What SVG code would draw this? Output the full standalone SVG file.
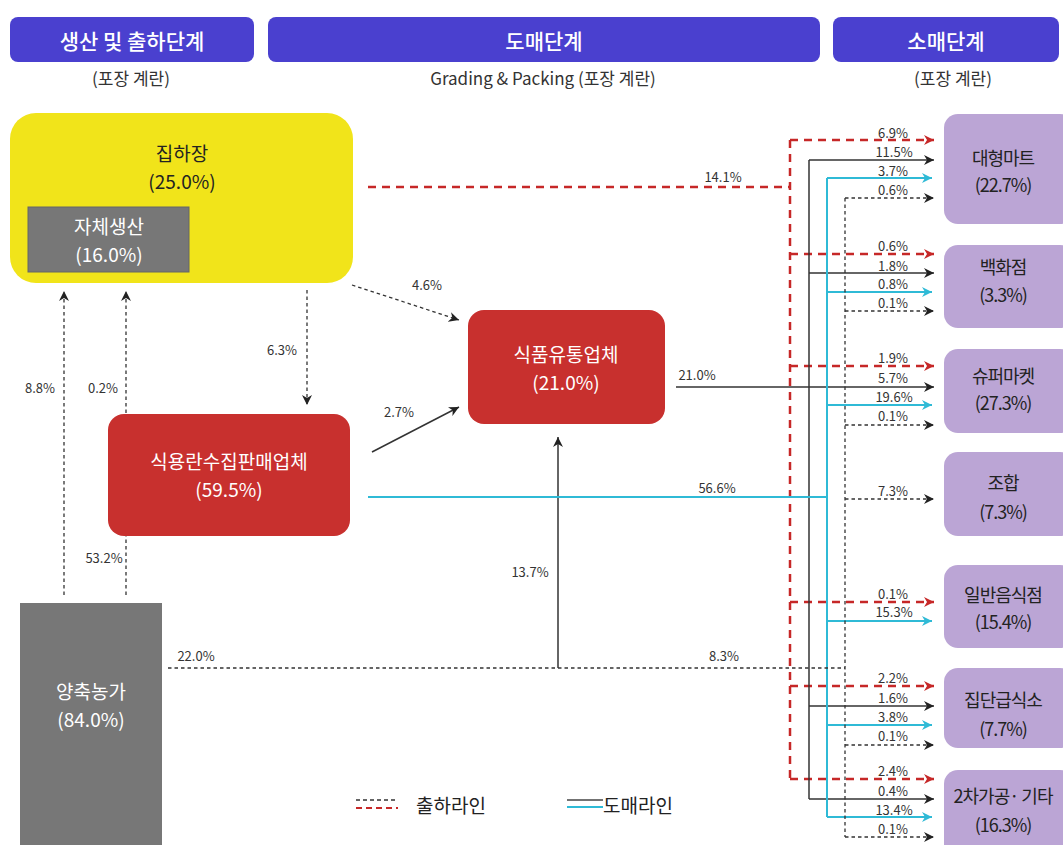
<svg xmlns="http://www.w3.org/2000/svg" width="1063" height="845" viewBox="0 0 1063 845">
<style>
text{font-family:"Noto Sans CJK KR","Noto Sans",sans-serif;}
.hdr{fill:#4A40CF;}
.hdrt{fill:#fff;font-size:21px;font-weight:500;text-anchor:middle;dominant-baseline:central;}
.sub{fill:#333;font-size:17px;text-anchor:middle;dominant-baseline:central;}
.nt{font-size:19px;text-anchor:middle;}
.wt{fill:#fff;}
.bt{fill:#222;}
.pt{fill:#222;font-size:18px;text-anchor:middle;letter-spacing:-1px;}
.lb{fill:#333;font-size:13px;text-anchor:middle;dominant-baseline:central;}
.purple{fill:#BBA5D5;}
.redbox{fill:#C8302E;}
.gray{fill:#777;}
.red{stroke:#C62828;stroke-width:2.5;stroke-dasharray:8 6;fill:none;}
.blk{stroke:#333;stroke-width:1.5;fill:none;}
.cy{stroke:#2FBAD6;stroke-width:2;fill:none;}
.dsh{stroke:#333;stroke-width:1.3;stroke-dasharray:3.5 3;fill:none;}
.leg{fill:#222;font-size:19px;dominant-baseline:central;}
</style>
<defs>
<marker id="ab" markerUnits="userSpaceOnUse" markerWidth="12" markerHeight="10" refX="10" refY="5" orient="auto"><path d="M0,0 L10,5 L0,10 L3,5 Z" fill="#222"/></marker>
<marker id="ar" markerUnits="userSpaceOnUse" markerWidth="12" markerHeight="10" refX="10" refY="5" orient="auto"><path d="M0,0 L10,5 L0,10 L3,5 Z" fill="#C62828"/></marker>
<marker id="ac" markerUnits="userSpaceOnUse" markerWidth="12" markerHeight="10" refX="10" refY="5" orient="auto"><path d="M0,0 L10,5 L0,10 L3,5 Z" fill="#2FBAD6"/></marker>
</defs>
<rect width="1063" height="845" fill="#fff"/>

<g id="headers">
<rect class="hdr" x="10" y="17" width="244" height="45" rx="8"/>
<text class="hdrt" x="132" y="40">생산 및 출하단계</text>
<rect class="hdr" x="268" y="17" width="552" height="45" rx="8"/>
<text class="hdrt" x="544" y="40">도매단계</text>
<rect class="hdr" x="833" y="17" width="226" height="45" rx="8"/>
<text class="hdrt" x="946" y="40">소매단계</text>
<text class="sub" x="131" y="77">(포장 계란)</text>
<text class="sub" x="543" y="77">Grading &amp; Packing (포장 계란)</text>
<text class="sub" x="953" y="77">(포장 계란)</text>
</g>

<g id="connectors">
<path class="dsh" d="M64,595 V291" marker-end="url(#ab)"/>
<path class="dsh" d="M126,595 V291" marker-end="url(#ab)"/>
<path class="dsh" d="M307,290 V405" marker-end="url(#ab)"/>
<path class="dsh" d="M352,285 L459,320" marker-end="url(#ab)"/>
<path class="blk" d="M372,452 L459,407" marker-end="url(#ab)"/>
<path class="blk" d="M558,668 V437" marker-end="url(#ab)"/>
<path class="red" d="M368,187 H790"/>
<path class="red" d="M790,140 V779"/>
<path class="red" d="M790,140 H934" marker-end="url(#ar)"/>
<path class="red" d="M790,254 H934" marker-end="url(#ar)"/>
<path class="red" d="M790,366 H934" marker-end="url(#ar)"/>
<path class="red" d="M790,602 H934" marker-end="url(#ar)"/>
<path class="red" d="M790,686 H934" marker-end="url(#ar)"/>
<path class="red" d="M790,779 H934" marker-end="url(#ar)"/>
<path class="blk" d="M676,387 H934" marker-end="url(#ab)"/>
<path class="blk" d="M809,160 V799"/>
<path class="blk" d="M809,160 H934" marker-end="url(#ab)"/>
<path class="blk" d="M809,273 H934" marker-end="url(#ab)"/>
<path class="blk" d="M809,706 H934" marker-end="url(#ab)"/>
<path class="blk" d="M809,799 H934" marker-end="url(#ab)"/>
<path class="cy" d="M368,497 H827"/>
<path class="cy" d="M827,178 V817"/>
<path class="cy" d="M827,178 H932" marker-end="url(#ac)"/>
<path class="cy" d="M827,292 H932" marker-end="url(#ac)"/>
<path class="cy" d="M827,405 H932" marker-end="url(#ac)"/>
<path class="cy" d="M827,621 H932" marker-end="url(#ac)"/>
<path class="cy" d="M827,725 H932" marker-end="url(#ac)"/>
<path class="cy" d="M827,817 H932" marker-end="url(#ac)"/>
<path class="dsh" d="M168,668 H845"/>
<path class="dsh" d="M845,198 V837"/>
<path class="dsh" d="M845,198 H934" marker-end="url(#ab)"/>
<path class="dsh" d="M845,311 H934" marker-end="url(#ab)"/>
<path class="dsh" d="M845,425 H934" marker-end="url(#ab)"/>
<path class="dsh" d="M845,499 H934" marker-end="url(#ab)"/>
<path class="dsh" d="M845,745 H934" marker-end="url(#ab)"/>
<path class="dsh" d="M845,837 H934" marker-end="url(#ab)"/>
<text class="lb" x="40" y="387">8.8%</text>
<text class="lb" x="103" y="387">0.2%</text>
<text class="lb" x="104" y="557">53.2%</text>
<text class="lb" x="282" y="349">6.3%</text>
<text class="lb" x="427" y="284">4.6%</text>
<text class="lb" x="399" y="411">2.7%</text>
<text class="lb" x="530" y="571">13.7%</text>
<text class="lb" x="196" y="655">22.0%</text>
<text class="lb" x="724" y="655">8.3%</text>
<text class="lb" x="723" y="176">14.1%</text>
<text class="lb" x="697" y="374">21.0%</text>
<text class="lb" x="717" y="487">56.6%</text>
<text class="lb" x="893" y="132">6.9%</text>
<text class="lb" x="894" y="151">11.5%</text>
<text class="lb" x="893" y="170">3.7%</text>
<text class="lb" x="893" y="189">0.6%</text>
<text class="lb" x="893" y="245">0.6%</text>
<text class="lb" x="893" y="265">1.8%</text>
<text class="lb" x="893" y="283">0.8%</text>
<text class="lb" x="893" y="302">0.1%</text>
<text class="lb" x="893" y="357">1.9%</text>
<text class="lb" x="893" y="377">5.7%</text>
<text class="lb" x="894" y="396">19.6%</text>
<text class="lb" x="893" y="415">0.1%</text>
<text class="lb" x="893" y="490">7.3%</text>
<text class="lb" x="893" y="593">0.1%</text>
<text class="lb" x="894" y="611">15.3%</text>
<text class="lb" x="893" y="677">2.2%</text>
<text class="lb" x="893" y="697">1.6%</text>
<text class="lb" x="893" y="716">3.8%</text>
<text class="lb" x="893" y="735">0.1%</text>
<text class="lb" x="893" y="770">2.4%</text>
<text class="lb" x="893" y="790">0.4%</text>
<text class="lb" x="894" y="809">13.4%</text>
<text class="lb" x="893" y="828">0.1%</text>
</g>

<g id="node-jihajang">
<rect x="10" y="113" width="343" height="170" rx="26" fill="#F1E41A"/>
<text class="nt bt" x="182" y="161"><tspan x="182">집하장</tspan><tspan x="182" dy="28">(25.0%)</tspan></text>
</g>
<g id="node-self">
<rect class="gray" x="28" y="207" width="161" height="65" stroke="#666" stroke-width="1"/>
<text class="nt wt" x="109" y="234"><tspan x="109">자체생산</tspan><tspan x="109" dy="28">(16.0%)</tspan></text>
</g>
<g id="node-collector">
<rect class="redbox" x="108" y="414" width="242" height="122" rx="16"/>
<text class="nt wt" x="229" y="469"><tspan x="229">식용란수집판매업체</tspan><tspan x="229" dy="28">(59.5%)</tspan></text>
</g>
<g id="node-distributor">
<rect class="redbox" x="468" y="310" width="197" height="114" rx="16"/>
<text class="nt wt" x="566" y="362"><tspan x="566">식품유통업체</tspan><tspan x="566" dy="28">(21.0%)</tspan></text>
</g>
<g id="node-farm">
<rect class="gray" x="20" y="603" width="142" height="250"/>
<text class="nt wt" x="91" y="699"><tspan x="91">양축농가</tspan><tspan x="91" dy="28">(84.0%)</tspan></text>
</g>

<g id="node-mart">
<rect class="purple" x="944" y="114" width="130" height="110" rx="14"/>
<text class="pt" x="1003" y="165"><tspan x="1003">대형마트</tspan><tspan x="1003" dy="27">(22.7%)</tspan></text>
</g>
<g id="node-dept">
<rect class="purple" x="944" y="245" width="130" height="83" rx="14"/>
<text class="pt" x="1003" y="274"><tspan x="1003">백화점</tspan><tspan x="1003" dy="28">(3.3%)</tspan></text>
</g>
<g id="node-super">
<rect class="purple" x="944" y="349" width="130" height="84" rx="14"/>
<text class="pt" x="1003" y="383"><tspan x="1003">슈퍼마켓</tspan><tspan x="1003" dy="27">(27.3%)</tspan></text>
</g>
<g id="node-coop">
<rect class="purple" x="944" y="452" width="130" height="84" rx="14"/>
<text class="pt" x="1003" y="490"><tspan x="1003">조합</tspan><tspan x="1003" dy="29">(7.3%)</tspan></text>
</g>
<g id="node-restaurant">
<rect class="purple" x="944" y="565" width="130" height="83" rx="14"/>
<text class="pt" x="1003" y="602"><tspan x="1003">일반음식점</tspan><tspan x="1003" dy="27">(15.4%)</tspan></text>
</g>
<g id="node-catering">
<rect class="purple" x="944" y="668" width="130" height="80" rx="14"/>
<text class="pt" x="1003" y="707"><tspan x="1003">집단급식소</tspan><tspan x="1003" dy="29">(7.7%)</tspan></text>
</g>
<g id="node-processing">
<rect class="purple" x="944" y="770" width="130" height="90" rx="14"/>
<text class="pt" x="1003" y="803"><tspan x="1003">2차가공· 기타</tspan><tspan x="1003" dy="29">(16.3%)</tspan></text>
</g>

<g id="legend">
<line x1="356" y1="800" x2="398" y2="800" stroke="#333" stroke-width="1.3" stroke-dasharray="4 3"/>
<line x1="356" y1="808" x2="398" y2="808" stroke="#C62828" stroke-width="2" stroke-dasharray="6 4"/>
<text class="leg" x="416" y="804">출하라인</text>
<line x1="567" y1="800" x2="603" y2="800" stroke="#444" stroke-width="1.3"/>
<line x1="567" y1="807" x2="603" y2="807" stroke="#2FBAD6" stroke-width="2"/>
<text class="leg" x="603" y="804">도매라인</text>
</g>
</svg>
